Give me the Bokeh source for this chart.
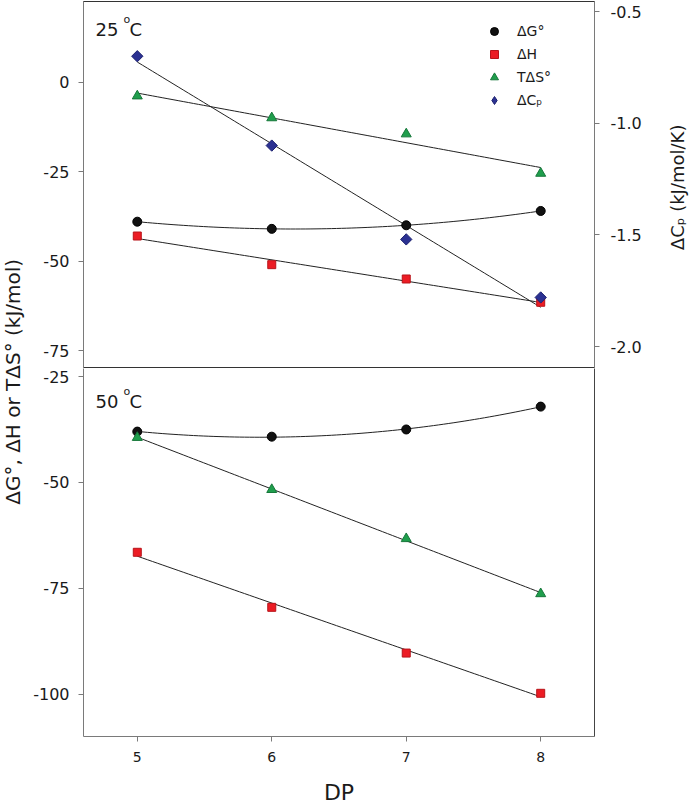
import numpy as np
from bokeh.plotting import figure
from bokeh.models import (Range1d, LinearAxis, FixedTicker, Legend, LegendItem, Label,
                          NumeralTickFormatter, ColumnDataSource)
from bokeh.layouts import column, row
from bokeh.embed import file_html
from bokeh.resources import INLINE

# ---------------- data ----------------
dp = [5, 6, 7, 8]
dG_25 = [-39.0, -41.0, -40.0, -36.0]
dH_25 = [-43.0, -51.0, -55.0, -61.5]
TdS_25 = [-3.9, -10.0, -14.5, -25.5]
dCp_25 = [-0.70, -1.10, -1.52, -1.78]

dG_50 = [-38.0, -39.2, -37.5, -32.1]
dH_50 = [-66.5, -79.5, -90.3, -99.8]
TdS_50 = [-39.4, -51.7, -63.3, -76.3]

x_ticks = [5, 6, 7, 8]
left_ticks_25 = [0, -25, -50, -75]
left_ticks_50 = [-25, -50, -75, -100]
cp_ticks = [-0.5, -1.0, -1.5, -2.0]

FONT = "DejaVu Sans"
AX = "#7a7a7a"
TXT = "#1a1a1a"
C_G = "#111111"
C_H = "#ec1c24"
C_S = "#1f9e4c"
C_P = "#2b3192"


def style_axis(ax, size):
    ax.axis_line_color = AX
    ax.major_tick_line_color = AX
    ax.major_tick_out = 5
    ax.major_tick_in = 0
    ax.minor_tick_line_color = None
    ax.major_label_text_font = FONT
    ax.major_label_text_font_size = size
    ax.major_label_text_color = TXT
    ax.axis_label_text_font = FONT
    ax.axis_label_text_font_style = "normal"
    ax.axis_label_text_color = TXT


xs = np.linspace(5, 8, 80)


def fit(y, deg):
    return np.polyval(np.polyfit(dp, y, deg), xs)


xr = Range1d(4.6, 8.4)
LB, RB = 58, 66
FIG_W = LB + 511 + RB

# ---------------- top panel (25 C) ----------------
top = figure(width=FIG_W, height=368, x_range=xr, y_range=Range1d(-80, 22.5),
             output_backend="svg", toolbar_location=None,
             min_border_left=LB, min_border_right=RB, min_border_top=1, min_border_bottom=0,
             x_axis_location=None)
top.grid.visible = False
top.outline_line_color = "#333333"
top.yaxis.ticker = FixedTicker(ticks=left_ticks_25)
top.yaxis.formatter = NumeralTickFormatter(format="0")
style_axis(top.yaxis[0], "16px")
top.yaxis.major_label_standoff = 9

top.extra_y_ranges = {"cp": Range1d(-2.098, -0.455)}
cp_axis = LinearAxis(y_range_name="cp", ticker=FixedTicker(ticks=cp_ticks),
                     formatter=NumeralTickFormatter(format="0.0"))
style_axis(cp_axis, "16px")
cp_axis.major_label_standoff = 11
top.add_layout(cp_axis, "right")

for y, deg in [(dG_25, 2), (dH_25, 1), (TdS_25, 1)]:
    top.line(xs, fit(y, deg), line_color="#222222", line_width=1)
top.line(xs, fit(dCp_25, 1), line_color="#222222", line_width=1, y_range_name="cp")

rg = top.scatter(dp, dG_25, marker="circle", size=9, fill_color=C_G, line_color="#000000")
rh = top.scatter(dp, dH_25, marker="square", size=8, fill_color=C_H, line_color="#b8141a")
rs = top.scatter(dp, TdS_25, marker="triangle", size=10, fill_color=C_S, line_color="#16773a")
top.scatter(dp, dCp_25, marker="square", angle=np.pi / 4, size=8, fill_color=C_P,
            line_color="#1d2270", y_range_name="cp")
# legend-only proxy for the diamond symbol (a single NaN row: draws nothing in the plot)
rp_leg = top.scatter(x="x", y="y", source=ColumnDataSource(dict(x=[np.nan], y=[np.nan])),
                     marker="diamond", size=14, fill_color=C_P, line_color="#1d2270",
                     y_range_name="cp")

legend = Legend(items=[LegendItem(label="ΔG°", renderers=[rg]),
                       LegendItem(label="ΔH", renderers=[rh]),
                       LegendItem(label="TΔS°", renderers=[rs]),
                       LegendItem(label="ΔCₚ", renderers=[rp_leg])],
                location=(401, 258), border_line_color=None, background_fill_alpha=0,
                label_text_font=FONT, label_text_font_size="14px", label_text_color=TXT,
                label_standoff=13, glyph_width=20, glyph_height=20, label_height=20,
                spacing=3, padding=10, margin=0)
top.add_layout(legend)

for txt, dx, dy, fs in [("25", 0, 0, "18px"), ("o", 28, 10, "11px"), ("C", 34, 0, "18px")]:
    top.add_layout(Label(x=4.69, y=14.6, text=txt, x_offset=dx, y_offset=dy,
                         text_font=FONT, text_font_size=fs, text_color=TXT,
                         text_baseline="alphabetic"))

# ---------------- bottom panel (50 C) ----------------
bot = figure(width=FIG_W, height=440, x_range=xr, y_range=Range1d(-110, -23.1),
             output_backend="svg", toolbar_location=None,
             min_border_left=LB, min_border_right=RB, min_border_top=0, min_border_bottom=72)
bot.grid.visible = False
bot.outline_line_color = None
bot.yaxis.ticker = FixedTicker(ticks=left_ticks_50)
bot.yaxis.formatter = NumeralTickFormatter(format="0")
style_axis(bot.yaxis[0], "16px")
bot.yaxis.major_label_standoff = 9
bot.xaxis.ticker = FixedTicker(ticks=x_ticks)
style_axis(bot.xaxis[0], "14px")
bot.xaxis.major_label_standoff = 10
bot.xaxis.axis_label = "DP"
bot.xaxis.axis_label_text_font_size = "22px"
bot.xaxis.axis_label_standoff = 15

rax = LinearAxis(ticker=FixedTicker(ticks=[]), major_tick_out=0, major_tick_in=0,
                 major_label_text_font_size="0px", axis_line_color="#444444")
bot.add_layout(rax, "right")

for y, deg in [(dG_50, 2), (dH_50, 1), (TdS_50, 1)]:
    bot.line(xs, fit(y, deg), line_color="#222222", line_width=1)
bot.scatter(dp, dG_50, marker="circle", size=9, fill_color=C_G, line_color="#000000")
bot.scatter(dp, dH_50, marker="square", size=8, fill_color=C_H, line_color="#b8141a")
bot.scatter(dp, TdS_50, marker="triangle", size=10, fill_color=C_S, line_color="#16773a")

for txt, dx, dy, fs in [("50", 0, 0, "18px"), ("o", 28, 10, "11px"), ("C", 34, 0, "18px")]:
    bot.add_layout(Label(x=4.69, y=-30.8, text=txt, x_offset=dx, y_offset=dy,
                         text_font=FONT, text_font_size=fs, text_color=TXT,
                         text_baseline="alphabetic"))

# ---------------- shared left title ----------------
lab = figure(width=25, height=808, x_range=Range1d(0, 1), y_range=Range1d(0, 1),
             output_backend="svg", toolbar_location=None, min_border=0,
             x_axis_location=None, y_axis_location=None)
lab.grid.visible = False
lab.outline_line_color = None
lab.add_layout(Label(x=0.5, y=0.532, text="ΔG°, ΔH or TΔS°  (kJ/mol)", angle=np.pi / 2,
                     text_align="center", text_baseline="middle", text_font=FONT,
                     text_font_size="20px", text_color=TXT))

# ---------------- right title (top panel) ----------------
rlab = figure(width=30, height=368, x_range=Range1d(0, 1), y_range=Range1d(0, 1),
              output_backend="svg", toolbar_location=None, min_border=0,
              x_axis_location=None, y_axis_location=None)
rlab.grid.visible = False
rlab.outline_line_color = None
rlab.add_layout(Label(x=0.58, y=0.5, text="ΔCₚ  (kJ/mol/K)", angle=np.pi / 2,
                      text_align="center", text_baseline="middle", text_font=FONT,
                      text_font_size="18px", text_color=TXT))

layout = row(lab, column(top, bot), rlab)
open("out.html", "w").write(file_html(layout, INLINE))
